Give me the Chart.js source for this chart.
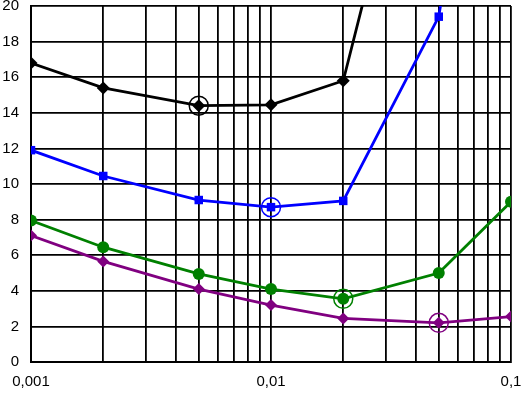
<!DOCTYPE html>
<html>
<head>
<meta charset="utf-8">
<script src="https://cdn.jsdelivr.net/npm/chart.js@4.4.0/dist/chart.umd.min.js"></script>
<style>
  html,body{margin:0;padding:0;background:#fff;overflow:hidden;}
  #wrap{width:522px;height:393px;position:relative;overflow:hidden;}
  #myChart{position:absolute;left:0;top:-5px;}
</style>
</head>
<body>
<div id="wrap"><canvas id="myChart" width="522" height="398"></canvas></div>
<script>
// x positions (log axis)
const xValues = [0.001, 0.002, 0.005, 0.01, 0.02, 0.05, 0.1];
// series
const blackValues  = [16.8, 15.4, 14.4, 14.45, 15.8, 37];
const blueValues   = [11.9, 10.45, 9.1, 8.7, 9.05, 19.4, 45];
const greenValues  = [7.95, 6.45, 4.95, 4.1, 3.55, 5.0, 9.0];
const purpleValues = [7.1, 5.65, 4.1, 3.2, 2.45, 2.2, 2.55];
// circled points
const markX = [0.005, 0.01, 0.02, 0.05];
const markY = [14.4, 8.7, 3.55, 2.2];
const yTicks = [0, 2, 4, 6, 8, 10, 12, 14, 16, 18, 20];

function toPoints(vals){
    let pts = [];
    for(let i=0;i<vals.length;i++){
        pts.push({x:xValues[i], y:vals[i]});
    }
    return pts;
}

const colors = ['#000000', '#0000ff', '#008000', '#800080'];

function lineSet(vals, color, style, r){
    return {
        data: toPoints(vals),
        borderColor: color,
        backgroundColor: color,
        borderWidth: 2.8,
        pointStyle: style,
        pointRadius: r,
        pointBorderWidth: 0,
        tension: 0
    };
}

let datasets = [
    lineSet(blackValues, colors[0], 'rectRot', 6.5),
    lineSet(blueValues, colors[1], 'rect', 6),
    lineSet(greenValues, colors[2], 'circle', 6),
    lineSet(purpleValues, colors[3], 'rectRot', 6)
];
for(let i=0;i<markX.length;i++){
    datasets.push({
        data: [{x:markX[i], y:markY[i]}],
        showLine: false,
        pointStyle: 'circle',
        pointRadius: 9.5,
        pointBorderWidth: 1.5,
        borderColor: colors[i],
        backgroundColor: 'rgba(0,0,0,0)'
    });
}

const gridTicks = [];
[0.001, 0.01].forEach(function(d){
    for(let k=1;k<10;k++) gridTicks.push(d*k);
});
gridTicks.push(0.1);

const ctx = document.getElementById('myChart').getContext('2d');
new Chart(ctx, {
    type: 'line',
    data: { datasets: datasets },
    options: {
        responsive: false,
        animation: false,
        layout: { padding: { top: 6, right: 10, left: 0, bottom: 0 } },
        plugins: { legend: { display: false }, tooltip: { enabled: false } },
        scales: {
            x: {
                type: 'logarithmic',
                min: 0.001,
                max: 0.1,
                afterBuildTicks: function(scale){
                    scale.ticks = gridTicks.map(function(v){ return {value:v}; });
                },
                afterFit: function(scale){
                    scale.height = 31;
                    scale.paddingLeft = 0;
                    scale.paddingRight = 0;
                },
                ticks: {
                    autoSkip: false,
                    maxRotation: 0,
                    padding: 11,
                    color: '#000',
                    font: { family: 'Liberation Sans, Arial', size: 15 },
                    callback: function(value){
                        const l = Math.log10(value);
                        if(Math.abs(l - Math.round(l)) < 1e-6){
                            return String(Number(value.toPrecision(3))).replace('.', ',');
                        }
                        return '';
                    }
                },
                grid: { color: '#000', lineWidth: 1.8, drawTicks: false },
                border: { color: '#000', width: 2 }
            },
            y: {
                min: 0,
                max: 20,
                afterBuildTicks: function(scale){
                    scale.ticks = yTicks.map(function(v){ return {value:v}; });
                },
                afterFit: function(scale){
                    scale.width = 31;
                    scale.paddingTop = 0;
                    scale.paddingBottom = 0;
                },
                ticks: {
                    padding: 12,
                    color: '#000',
                    font: { family: 'Liberation Sans, Arial', size: 15 }
                },
                grid: { color: '#000', lineWidth: 1.8, drawTicks: false },
                border: { color: '#000', width: 2 }
            }
        }
    }
});
</script>
</body>
</html>
